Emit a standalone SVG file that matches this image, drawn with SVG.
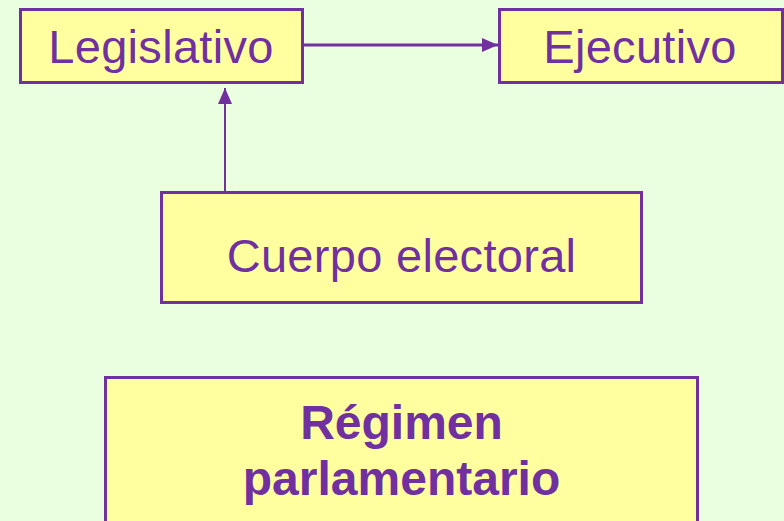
<svg xmlns="http://www.w3.org/2000/svg" width="784" height="521" viewBox="0 0 784 521">
<style>
.box{fill:#FFFF9F;stroke:#7030A0;stroke-width:3}
.t{font-family:"Liberation Sans",Arial,sans-serif;fill:#7030A0;text-anchor:middle}
.n{font-size:47px;letter-spacing:0.3px}
.b{font-size:48px;font-weight:bold}
.c{stroke:#7030A0;fill:none}
</style>
<defs>
<marker id="ah" viewBox="0 0 16 14" refX="16" refY="7" markerWidth="16" markerHeight="14" markerUnits="userSpaceOnUse" orient="auto">
<path d="M0,0 L16,7 L0,14 Z" fill="#7030A0"/>
</marker>
</defs>
<rect width="784" height="521" fill="#EAFFDF"/>
<g id="connectors">
<line class="c" x1="304" y1="45" x2="498" y2="45" stroke-width="3" marker-end="url(#ah)"/>
<line class="c" x1="225" y1="193" x2="225" y2="88" stroke-width="2" marker-end="url(#ah)"/>
</g>
<g id="legislativo">
<rect class="box" x="20.5" y="9.5" width="282" height="73"/>
<text class="t n" x="161" y="63">Legislativo</text>
</g>
<g id="ejecutivo">
<rect class="box" x="499.5" y="9.5" width="283" height="73"/>
<text class="t n" x="640" y="63">Ejecutivo</text>
</g>
<g id="cuerpo">
<rect class="box" x="161.5" y="192.5" width="480" height="110"/>
<text class="t n" x="401.5" y="272">Cuerpo electoral</text>
</g>
<g id="regimen">
<rect class="box" x="105.5" y="377.5" width="592" height="160"/>
<text class="t b" x="401.5" y="439">Régimen</text>
<text class="t b" x="401.5" y="495">parlamentario</text>
</g>
</svg>
